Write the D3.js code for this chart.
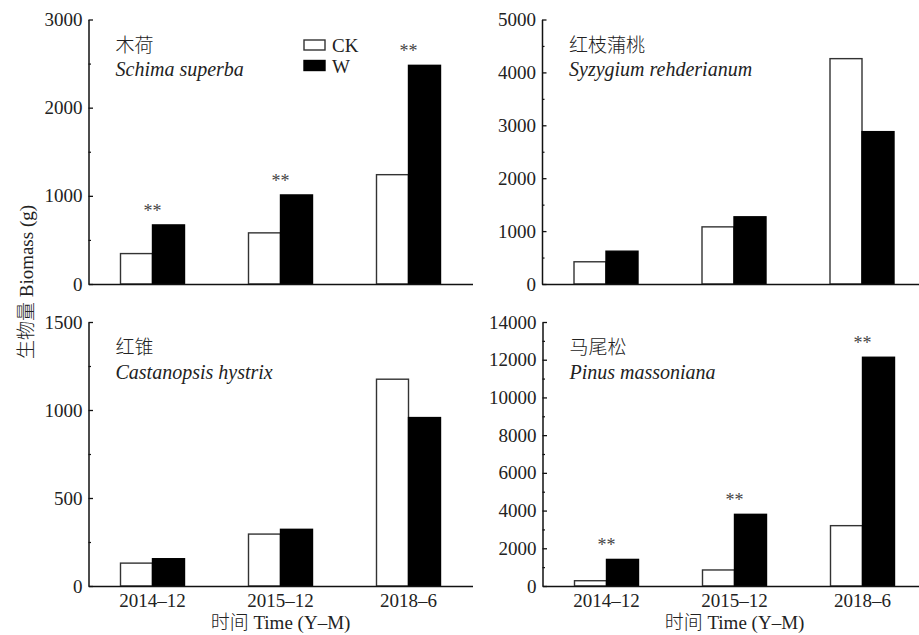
<!DOCTYPE html>
<html>
<head>
<meta charset="utf-8">
<script src="https://cdn.jsdelivr.net/npm/d3@7"></script>
<style>
  body { margin: 0; background: #fff; }
  svg { display: block; }
  text { font-family: "Liberation Serif", "Times New Roman", "Noto Sans CJK SC", serif; fill: #222; }
  .cjk { font-family: "Noto Sans CJK SC", sans-serif; font-weight: 300; }
</style>
</head>
<body>
<svg id="chart"></svg>
<script>
let W = 919, H = 635
let svg = d3.select('#chart').attr('width', W).attr('height', H)

// categories (time)
let categories = ['2014–12', '2015–12', '2018–6']
let seriesNames = ['CK', 'W']

// species names
let namesCn = ['木荷', '红枝蒲桃', '红锥', '马尾松']
let namesLatin = ['Schima superba', 'Syzygium rehderianum', 'Castanopsis hystrix', 'Pinus massoniana']

// biomass (g)
let ckSchima = [345, 580, 1240]
let wSchima = [670, 1010, 2480]
let ckSyzygium = [420, 1080, 4260]
let wSyzygium = [620, 1270, 2880]
let ckCastanopsis = [130, 295, 1175]
let wCastanopsis = [155, 322, 957]
let ckPinus = [280, 850, 3200]
let wPinus = [1410, 3800, 12130]

// significance marks
let sigSchima = ['**', '**', '**']
let sigSyzygium = ['', '', '']
let sigCastanopsis = ['', '', '']
let sigPinus = ['**', '**', '**']

// y axis settings
let yMax = [3000, 5000, 1500, 14000]
let yMajor = [1000, 1000, 500, 2000]
let yMinor = [500, 500, 250, 1000]

let ckAll = [ckSchima, ckSyzygium, ckCastanopsis, ckPinus]
let wAll = [wSchima, wSyzygium, wCastanopsis, wPinus]
let sigAll = [sigSchima, sigSyzygium, sigCastanopsis, sigPinus]

// panel frames: y axis x, plot top, plot bottom
let frames = [
  {x: 88.5, top: 19.5, bottom: 284},
  {x: 542, top: 19.5, bottom: 284},
  {x: 88.5, top: 322, bottom: 586},
  {x: 542.5, top: 322, bottom: 586},
]

let fs = 19

frames.forEach((f, p) => {
  let g = svg.append('g')
  let x = d3.scaleBand().domain(categories).range([f.x, f.x + 384]).paddingInner(0.5).paddingOuter(0.25)
  let xs = d3.scaleBand().domain(seriesNames).range([0, x.bandwidth()])
  let y = d3.scaleLinear().domain([0, yMax[p]]).range([f.bottom, f.top])

  let rows = categories.map((c, i) => ({c: c, CK: ckAll[p][i], W: wAll[p][i], sig: sigAll[p][i]}))

  // bars
  let grp = g.selectAll('.grp').data(rows).enter().append('g')
    .attr('transform', d => `translate(${x(d.c)},0)`)
  grp.selectAll('rect').data(d => seriesNames.map(s => ({s: s, v: d[s]}))).enter().append('rect')
    .attr('x', d => xs(d.s))
    .attr('y', d => y(d.v))
    .attr('width', xs.bandwidth())
    .attr('height', d => y(0) - y(d.v))
    .attr('fill', d => d.s == 'CK' ? '#fff' : '#000')
    .attr('stroke', d => d.s == 'CK' ? '#333' : '#000')
    .attr('stroke-width', 1.4)

  // significance
  grp.append('text')
    .attr('x', x.bandwidth() / 2)
    .attr('y', d => y(Math.max(d.CK, d.W)) - 8)
    .attr('text-anchor', 'middle')
    .attr('font-size', 18)
    .style('fill', '#444')
    .text(d => d.sig)

  // y axis (major, inward ticks)
  let yAxis = d3.axisLeft(y).tickValues(d3.range(0, yMax[p] + 1, yMajor[p]))
    .tickFormat(d3.format('d'))
    .tickSizeInner(-4.5).tickSizeOuter(0).tickPadding(6)
  let ya = g.append('g').attr('transform', `translate(${f.x},0)`).call(yAxis)
  ya.select('.domain').attr('stroke', '#111').attr('stroke-width', 1.5)
  ya.selectAll('.tick line').attr('stroke', '#111').attr('stroke-width', 1.3)
  ya.selectAll('text').attr('font-size', fs)

  let minors = d3.range(0, yMax[p] + 1, yMinor[p]).filter(v => v % yMajor[p] != 0)
  let ym = g.append('g').attr('transform', `translate(${f.x},0)`)
    .call(d3.axisLeft(y).tickValues(minors).tickSizeInner(-2.5).tickSizeOuter(0).tickFormat(''))
  ym.select('.domain').remove()
  ym.selectAll('.tick line').attr('stroke', '#111').attr('stroke-width', 1.2)

  // x axis
  let xAxis = d3.axisBottom(x).tickSize(0).tickSizeOuter(0).tickPadding(7.5)
  let xa = g.append('g').attr('transform', `translate(0,${f.bottom})`).call(xAxis)
  xa.select('.domain').attr('stroke', '#111').attr('stroke-width', 1.5)
  xa.selectAll('text').attr('font-size', fs)
  if (p < 2) xa.selectAll('.tick text').remove()
  else {
    let t = g.append('text')
      .attr('x', x(categories[1]) + x.bandwidth() / 2)
      .attr('y', 629)
      .attr('text-anchor', 'middle')
      .attr('font-size', fs)
    t.append('tspan').attr('class', 'cjk').text('时间')
    t.append('tspan').text(' Time (Y–M)')
  }

  // species label
  g.append('text').attr('class', 'cjk').attr('x', f.x + 27).attr('y', f.top + 32)
    .attr('font-size', fs)
    .text(namesCn[p])
  g.append('text').attr('x', f.x + 27).attr('y', f.top + 56.5)
    .attr('font-size', 20).attr('font-style', 'italic')
    .text(namesLatin[p])

  // legend in first panel
  if (p == 0) {
    let lg = g.append('g').attr('transform', 'translate(304,40)')
    let items = lg.selectAll('g').data(seriesNames).enter().append('g')
      .attr('transform', (d, i) => `translate(0,${i * 20.5})`)
    items.append('rect').attr('width', 21).attr('height', 10)
      .attr('fill', d => d == 'CK' ? '#fff' : '#000')
      .attr('stroke', d => d == 'CK' ? '#333' : '#000')
      .attr('stroke-width', 1.4)
    items.append('text').attr('x', 28).attr('y', 12).attr('font-size', fs).text(d => d)
  }
})

// y axis title
let yt = svg.append('text')
  .attr('transform', 'translate(33,282) rotate(-90)')
  .attr('text-anchor', 'middle')
  .attr('font-size', fs)
yt.append('tspan').attr('class', 'cjk').text('生物量')
yt.append('tspan').text(' Biomass (g)')
</script>
</body>
</html>
